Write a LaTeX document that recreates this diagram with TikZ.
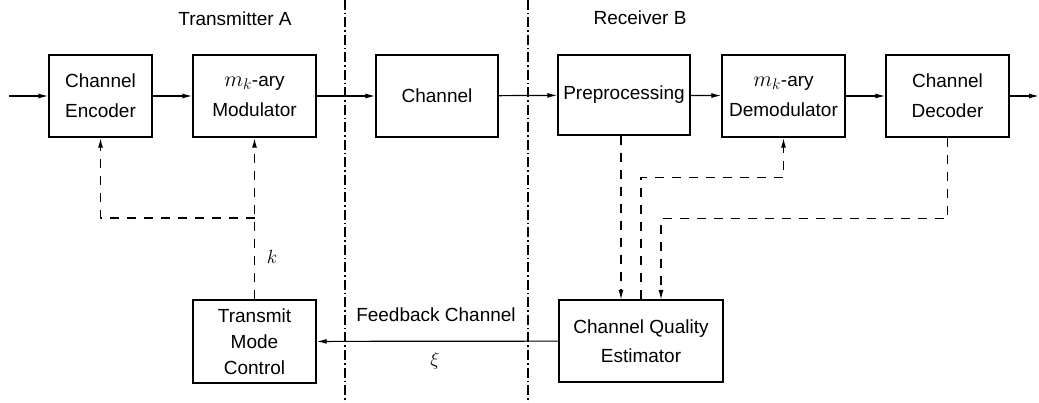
\RequirePackage{fix-cm}
\documentclass[tikz,border=0pt]{standalone}
\usepackage{fontspec}
\setmainfont{Liberation Sans}
\usetikzlibrary{arrows.meta}
\newcommand{\mkary}{{\fontsize{22}{30}\selectfont$m_k$}-ary}
\tikzset{
  blk/.style={draw, line width=1.4pt, minimum width=123pt, minimum height=82pt, inner sep=0pt, align=center, font=\fontsize{19}{30}\selectfont},
  lbl/.style={inner sep=0pt, font=\fontsize{19}{29}\selectfont},
  ar/.style={line width=1.2pt, -{Latex[length=10pt,width=5pt]}},
  fb/.style={line width=1.4pt, dash pattern=on 9pt off 8pt, -{Latex[length=10pt,width=5pt]}},
  dd/.style={line width=1.1pt, dash pattern=on 10pt off 3pt on 1.5pt off 3pt}
}
\begin{document}
\begin{tikzpicture}[x=1pt,y=-1pt]
\useasboundingbox (0,0) rectangle (1039,403);
% boundaries
\draw[dd] (345,0) -- (345,403);
\draw[dd] (528,0) -- (528,403);
% labels
\node[lbl] (ta) at (235,19) {Transmitter A};
\node[lbl] (rb) at (640,18) {Receiver B};
\node[lbl] (fbc) at (436,315) {Feedback Channel};
\node[lbl] (xi) at (435,361) {$\xi$};
\node[lbl] (kk) at (272,257) {$k$};
% blocks
\node[blk, minimum width=103pt] (enc) at (100.5,96) {Channel\\Encoder};
\node[blk] (mod) at (254.5,96) {\mkary\\Modulator};
\node[blk, minimum width=122pt] (chan) at (437,96) {Channel};
\node[blk, minimum width=132pt, minimum height=80pt] (pre) at (624,95) {Preprocessing};
\node[blk] (dem) at (783.5,96) {\mkary\\Demodulator};
\node[blk] (dec) at (947.5,96) {Channel\\Decoder};
\node[blk, font=\fontsize{19}{26}\selectfont, minimum height=83pt] (tmc) at (254.5,341.5) {Transmit\\Mode\\Control};
\node[blk, minimum width=164pt, font=\fontsize{19}{29}\selectfont] (cqe) at (641,341) {Channel Quality\\Estimator};
% in/out
\coordinate (in) at (9,96);
\coordinate (out) at (1039,96);
% main chain
\draw[ar] (in) -- (enc);
\draw[ar] (enc) -- (mod);
\draw[ar] (mod) -- (chan);
\draw[ar] (chan) -- (pre);
\draw[ar] (pre) -- (dem);
\draw[ar] (dem) -- (dec);
\draw[ar] (dec) -- (out);
\draw[ar] (cqe) -- (tmc);
% feedback (transmitter side)
\coordinate (j) at (254.5,218);
\draw[fb] (tmc.north) -- (mod.south);
\draw[fb] (j) -| (enc.south);
% receiver side
\coordinate (c1) at (621,300);
\coordinate (c3) at (661,300);
\draw[fb] (pre.south -| c1) -- (c1);
\draw[fb] (cqe.north) -- ++(0,-122) -| (dem.south);
\draw[fb] (dec.south) -- ++(0,81) -| (c3);
\end{tikzpicture}
\end{document}
